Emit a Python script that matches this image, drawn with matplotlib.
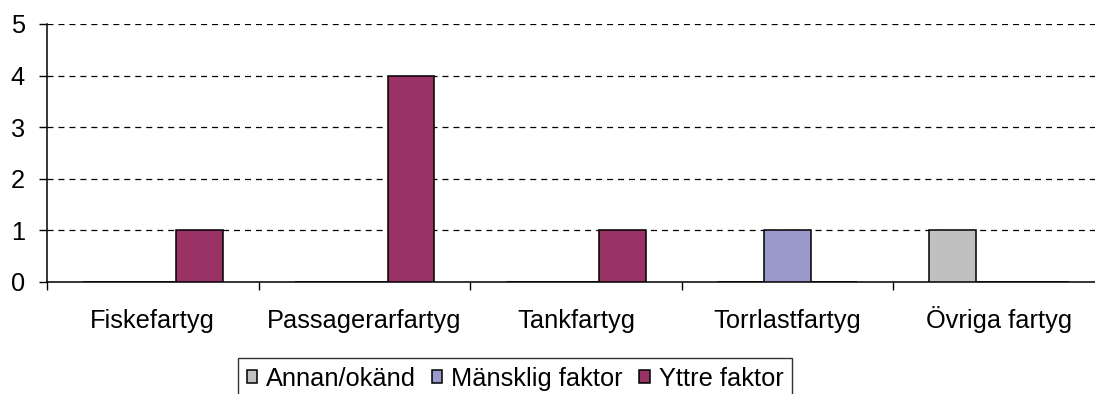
import numpy as np
import matplotlib
matplotlib.use("Agg")
import matplotlib.pyplot as plt
from matplotlib.ticker import FixedLocator, NullFormatter

plt.rcParams['font.family'] = ['Liberation Sans', 'DejaVu Sans']
plt.rcParams['lines.scale_dashes'] = False

categories = ['Fiskefartyg', 'Passagerarfartyg', 'Tankfartyg', 'Torrlastfartyg', 'Övriga fartyg']
series_names = ['Annan/okänd', 'Mänsklig faktor', 'Yttre faktor']
annan = [0, 0, 0, 0, 1]
mansklig = [0, 0, 0, 1, 0]
yttre = [1, 4, 1, 0, 0]
colors = ['#C0C0C0', '#9999CC', '#993366']
fs = 18.3

fig = plt.figure(figsize=(10.95, 3.94), dpi=100)
ax = fig.add_axes([0.0429, 0.2843, 0.9662, 0.6548])

x = np.arange(len(categories)) + 0.5
w = 0.22
for k, (name, vals) in enumerate(zip(series_names, [annan, mansklig, yttre])):
    ax.bar(x + (k - 1) * w, vals, width=w, color=colors[k],
           edgecolor='black', linewidth=1.1, label=name, zorder=3)

ax.set_xlim(0, len(categories))
ax.set_ylim(0, 5)
ax.set_yticks(range(6))
ax.yaxis.grid(True, color='black', linewidth=0.9, linestyle=(0, (4.3, 3.6)), zorder=1)

# group boundaries get the tick marks, group centres get the labels
ax.xaxis.set_major_locator(FixedLocator(np.arange(len(categories) + 1)))
ax.xaxis.set_major_formatter(NullFormatter())
ax.xaxis.set_minor_locator(FixedLocator(x))
ax.set_xticklabels(categories, minor=True, va='baseline')
ax.tick_params(axis='x', which='major', length=6, width=1, color='black')
ax.tick_params(axis='x', which='minor', length=0, pad=33, labelsize=fs)
ax.tick_params(axis='y', length=6, width=1, pad=10, labelsize=fs)

for side in ['top', 'right']:
    ax.spines[side].set_visible(False)
for side in ['left', 'bottom']:
    ax.spines[side].set_color('black')
    ax.spines[side].set_linewidth(1.1)

leg = fig.legend(loc='upper center', bbox_to_anchor=(0.4703, 0.0914), ncol=3,
                 fontsize=fs, frameon=True, fancybox=False, shadow=False,
                 handlelength=0.4, handleheight=0.4, handletextpad=0.35,
                 columnspacing=0.65, borderpad=0.35, borderaxespad=0)
leg.get_frame().set_edgecolor('black')
leg.get_frame().set_linewidth(1)

fig.savefig('out.png', dpi=100)
